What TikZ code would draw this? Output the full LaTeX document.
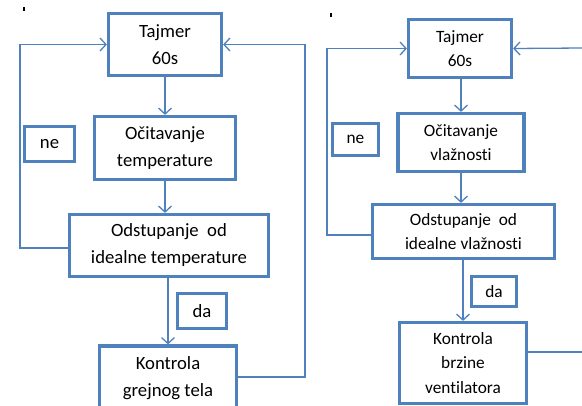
\documentclass[tikz,border=0pt]{standalone}
\usepackage{fontspec}
\setmainfont{Carlito}[Ligatures=NoCommon]
\usetikzlibrary{arrows.meta}

\tikzset{
  blok/.style={draw=plava, line width=3.2pt, align=center, inner sep=2pt},
  oznaka/.style={draw=plava, line width=3.2pt, align=center, inner sep=1pt},
  veza/.style={draw=plava, line width=1.3pt, -{Straight Barb[length=6pt,width=13pt]}},
  linija/.style={draw=plava, line width=1.3pt},
  levi/.style={font={\fontsize{18.7}{27}\selectfont}},
  desni/.style={font={\fontsize{17.3}{24.5}\selectfont}}
}

\begin{document}
\begin{tikzpicture}[x=1pt, y=-1pt]
  \definecolor{plava}{RGB}{79,129,189}

  \useasboundingbox (0,0) rectangle (582,405);
  \clip (0,0) rectangle (582,405);

  \fill (23,7) rectangle (25,11);
  \fill (330,13) rectangle (332,17);

  % temperatura
  \node[blok, levi, minimum width=113, minimum height=62] (tajmerT) at (165,44.5) {Tajmer\\60s};
  \node[blok, levi, minimum width=141, minimum height=63] (citanjeT) at (165,148) {Očitavanje\\temperature};
  \node[blok, levi, minimum width=199, minimum height=62] (odstupT) at (169,245.5) {Odstupanje\ \ od\\idealne temperature};
  \node[blok, levi, minimum width=137, minimum height=64] (kontrolaT) at (168,378) {Kontrola\\grejnog tela};
  \node[oznaka, levi, minimum width=50, minimum height=35] (neT) at (49.5,144) {ne};
  \node[oznaka, levi, minimum width=49, minimum height=35] (daT) at (202,311) {da};

  \coordinate (levoT) at (20,248);
  \coordinate (desnoT) at (305,377);

  \draw[veza] (tajmerT) -- (citanjeT);
  \draw[veza] (citanjeT.south) -- (citanjeT.south |- odstupT.north);
  \draw[veza] (odstupT.south -| kontrolaT.north) -- (kontrolaT.north);
  \draw[veza] (odstupT.west |- levoT) -- (levoT) |- (tajmerT.west);
  \draw[veza] (kontrolaT.east |- desnoT) -- (desnoT) |- (tajmerT.east);

  % vlaznost
  \node[blok, desni, minimum width=103, minimum height=58] (tajmerV) at (460,48.5) {Tajmer\\60s};
  \node[blok, desni, minimum width=126, minimum height=58] (citanjeV) at (461,142.5) {Očitavanje\\vlažnosti};
  \node[blok, desni, minimum width=182, minimum height=54] (odstupV) at (463.5,231.5) {Odstupanje\ \ od\\idealne vlažnosti};
  \node[blok, desni, minimum width=127, minimum height=81] (kontrolaV) at (463,363) {Kontrola\\brzine\\ventilatora};
  \node[oznaka, desni, minimum width=46, minimum height=32] (neV) at (355.5,139.5) {ne};
  \node[oznaka, desni, minimum width=45, minimum height=30] (daV) at (494,291.5) {da};

  \coordinate (levoV) at (327,235);
  \coordinate (ulazV) at (582,48);
  \coordinate (izlazV) at (582,352);

  \draw[veza] (tajmerV.south -| citanjeV.north) -- (citanjeV.north);
  \draw[veza] (citanjeV.south) -- (citanjeV.south |- odstupV.north);
  \draw[veza] (odstupV.south -| kontrolaV.north) -- (kontrolaV.north);
  \draw[veza] (odstupV.west |- levoV) -- (levoV) |- (tajmerV.west);
  \draw[veza] (ulazV) -- (tajmerV.east);
  \draw[linija] (kontrolaV.east |- izlazV) -- (izlazV);
\end{tikzpicture}
\end{document}
